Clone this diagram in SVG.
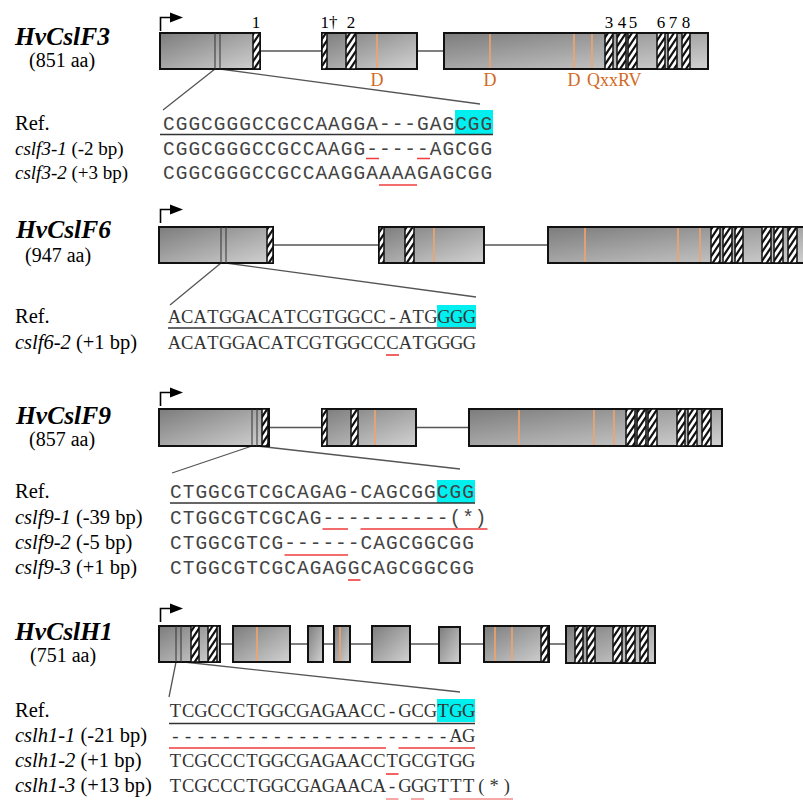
<svg xmlns="http://www.w3.org/2000/svg" width="803" height="800" viewBox="0 0 803 800">
<defs>
<linearGradient id="gr" x1="0" y1="0" x2="1" y2="1">
<stop offset="0" stop-color="#7c7c7c"/>
<stop offset="1" stop-color="#d2d2d2"/>
</linearGradient>
<pattern id="hatch" patternUnits="userSpaceOnUse" width="6" height="9">
<rect width="6" height="9" fill="#fff"/>
<path d="M-1,10.5 L7,-1.5 M-7,10.5 L1,-1.5 M5,10.5 L13,-1.5" stroke="#111" stroke-width="2.2"/>
</pattern>
<style>
.title{font-family:"Liberation Serif",serif;font-weight:bold;font-style:italic;font-size:25.5px;fill:#000}
.aa{font-family:"Liberation Serif",serif;font-size:20px;fill:#000}
.lbl{font-family:"Liberation Serif",serif;font-size:20.5px;fill:#000}
.lbl3{font-family:"Liberation Serif",serif;font-size:19px;fill:#000}
.it{font-style:italic}
.seqS{font-family:"Liberation Mono",monospace;font-size:19.5px;letter-spacing:1px;fill:#444}
.seqC{font-family:"Liberation Serif",serif;font-size:18.5px;fill:#333;text-anchor:middle}
.exon{fill:url(#gr);stroke:#111;stroke-width:2}
.hat{fill:url(#hatch);stroke:#111;stroke-width:1.5}
.intron{stroke:#555;stroke-width:1.5;fill:none}
.zoom{stroke:#555;stroke-width:1.3;fill:none}
.org{stroke:#f2a46c;stroke-width:1.6}
.inner{stroke:#333;stroke-width:1}
.motif{font-family:"Liberation Serif",serif;font-size:18px;fill:#d2691e}
.num{font-family:"Liberation Serif",serif;font-size:17px;fill:#000;text-anchor:middle}
.ul{stroke:#333;stroke-width:1.5}
.red{stroke:#f03c3c;stroke-width:1.6}
.cyan{fill:#00f0f0}
.arr{stroke:#000;stroke-width:1.6;fill:none}
</style>
</defs>
<rect width="803" height="800" fill="#fff"/>

<!-- connectors -->
<g id="connectors">
<path class="zoom" d="M215,69 L163,110 M220,69 L480,104"/>
<path class="zoom" d="M221,263 L170,305 M226,263 L476,297"/>
<path class="zoom" d="M252,446 L172,473 M257,446 L460,469"/>
<path class="zoom" d="M176,662 L169,697 M184,662 L460,692"/>
</g>

<!-- HvCslF3 -->
<g id="gene-HvCslF3">
<text class="title" x="15" y="45">HvCslF3</text>
<text class="aa" x="29" y="67">(851 aa)</text>
<path class="arr" d="M160.5,31 V17.5 H172"/>
<polygon points="170,12.5 183,17.5 170,22.5" fill="#000"/>
<path class="intron" d="M260,51 H322 M417,51 H444"/>
<rect class="exon" x="160" y="33" width="100" height="36"/>
<rect class="exon" x="322" y="33" width="95" height="36"/>
<rect class="exon" x="444" y="33" width="264" height="36"/>
<path class="inner" d="M215,33 V69 M220,33 V69"/>
<path class="org" d="M377,34 V68 M490,34 V68 M574,34 V68 M592,34 V68"/>
<rect class="hat" x="253" y="33" width="7" height="36"/>
<rect class="hat" x="322" y="33" width="5" height="36"/>
<rect class="hat" x="346" y="33" width="10" height="36"/>
<rect class="hat" x="605" y="33" width="8" height="36"/>
<rect class="hat" x="617" y="33" width="9" height="36"/>
<rect class="hat" x="628" y="33" width="9" height="36"/>
<rect class="hat" x="657" y="33" width="8" height="36"/>
<rect class="hat" x="668" y="33" width="9" height="36"/>
<rect class="hat" x="682" y="33" width="8" height="36"/>
<text class="num" x="256" y="28">1</text>
<text class="num" x="329" y="28">1†</text>
<text class="num" x="351" y="28">2</text>
<text class="num" x="609" y="28">3</text>
<text class="num" x="622" y="28">4</text>
<text class="num" x="633" y="28">5</text>
<text class="num" x="661" y="28">6</text>
<text class="num" x="673" y="28">7</text>
<text class="num" x="686" y="28">8</text>
<text class="motif" x="377" y="86" text-anchor="middle">D</text>
<text class="motif" x="490" y="86" text-anchor="middle">D</text>
<text class="motif" x="574" y="86" text-anchor="middle">D</text>
<text class="motif" x="587" y="86">QxxRV</text>
</g>

<g id="seq-HvCslF3">
<rect class="cyan" x="455" y="110" width="38" height="24"/>
<text class="lbl" x="15" y="130">Ref.</text>
<text class="seqS" x="163" y="130">CGGCGGGCCGCCAAGGA---GAGCGG</text>
<line class="ul" x1="160" y1="134.5" x2="493" y2="134.5"/>
<text class="lbl3" x="15" y="154.5"><tspan class="it">cslf3-1</tspan> (-2 bp)</text>
<text class="seqS" x="163" y="154.5">CGGCGGGCCGCCAAGG-----AGCGG</text>
<path class="red" d="M366,158.5 H379 M417,158.5 H430"/>
<text class="lbl3" x="15" y="179"><tspan class="it">cslf3-2</tspan> (+3 bp)</text>
<text class="seqS" x="163" y="179">CGGCGGGCCGCCAAGGAAAAGAGCGG</text>
<path class="red" d="M379,185 H417"/>
</g>

<!-- HvCslF6 -->
<g id="gene-HvCslF6">
<text class="title" x="16" y="238">HvCslF6</text>
<text class="aa" x="25" y="262">(947 aa)</text>
<path class="arr" d="M160.5,223 V209.5 H172"/>
<polygon points="170,204.5 183,209.5 170,214.5" fill="#000"/>
<path class="intron" d="M273,245 H379 M484,245 H548"/>
<rect class="exon" x="159" y="227" width="114" height="36"/>
<rect class="exon" x="379" y="227" width="105" height="36"/>
<rect class="exon" x="548" y="227" width="270" height="36"/>
<path class="inner" d="M221,227 V263 M226,227 V263"/>
<path class="org" d="M434,228 V262 M585,228 V262 M678,228 V262 M700,228 V262"/>
<rect class="hat" x="267" y="227" width="6" height="36"/>
<rect class="hat" x="379" y="227" width="5" height="36"/>
<rect class="hat" x="405" y="227" width="9" height="36"/>
<rect class="hat" x="711" y="227" width="9" height="36"/>
<rect class="hat" x="723" y="227" width="9" height="36"/>
<rect class="hat" x="735" y="227" width="8" height="36"/>
<rect class="hat" x="762" y="227" width="9" height="36"/>
<rect class="hat" x="774" y="227" width="9" height="36"/>
<rect class="hat" x="788" y="227" width="9" height="36"/>
</g>

<g id="seq-HvCslF6">
<rect class="cyan" x="437" y="305" width="39" height="22"/>
<text class="lbl" x="15" y="323">Ref.</text>
<text class="seqC" x="174.4 187.2 200.1 212.9 225.7 238.6 251.4 264.2 277.1 289.9 302.7 315.5 328.4 341.2 354.0 366.9 379.7 392.5 405.4 418.2 431.0 443.9 456.7 469.5" y="323">ACATGGACATCGTGGCC-ATGGGG</text>
<line class="ul" x1="168" y1="328" x2="476" y2="328"/>
<text class="lbl" x="15" y="349"><tspan class="it">cslf6-2</tspan> (+1 bp)</text>
<text class="seqC" x="174.4 187.2 200.1 212.9 225.7 238.6 251.4 264.2 277.1 289.9 302.7 315.5 328.4 341.2 354.0 366.9 379.7 392.5 405.4 418.2 431.0 443.9 456.7 469.5" y="349">ACATGGACATCGTGGCCCATGGGG</text>
<path class="red" d="M386,355 H399"/>
</g>

<!-- HvCslF9 -->
<g id="gene-HvCslF9">
<text class="title" x="16" y="424">HvCslF9</text>
<text class="aa" x="29" y="446">(857 aa)</text>
<path class="arr" d="M160.5,406 V392.5 H172"/>
<polygon points="170,387.5 183,392.5 170,397.5" fill="#000"/>
<path class="intron" d="M269,427.5 H322 M416,427.5 H469"/>
<rect class="exon" x="159" y="409" width="110" height="37"/>
<rect class="exon" x="322" y="409" width="94" height="37"/>
<rect class="exon" x="469" y="409" width="253" height="37"/>
<path class="inner" d="M252,409 V446 M257,409 V446"/>
<path class="org" d="M375,410 V445 M519,410 V445 M594,410 V445 M614,410 V445"/>
<rect class="hat" x="262" y="409" width="6" height="37"/>
<rect class="hat" x="322" y="409" width="5" height="37"/>
<rect class="hat" x="351" y="409" width="7" height="37"/>
<rect class="hat" x="626" y="409" width="9" height="37"/>
<rect class="hat" x="637" y="409" width="9" height="37"/>
<rect class="hat" x="648" y="409" width="9" height="37"/>
<rect class="hat" x="677" y="409" width="8" height="37"/>
<rect class="hat" x="688" y="409" width="9" height="37"/>
<rect class="hat" x="702" y="409" width="9" height="37"/>
</g>

<g id="seq-HvCslF9">
<rect class="cyan" x="437" y="480" width="38" height="23"/>
<text class="lbl" x="15" y="498">Ref.</text>
<text class="seqS" x="170" y="498">CTGGCGTCGCAGAG-CAGCGGCGG</text>
<line class="ul" x1="170" y1="503" x2="475" y2="503"/>
<text class="lbl" x="15" y="524"><tspan class="it">cslf9-1</tspan> (-39 bp)</text>
<text class="seqS" x="170" y="524">CTGGCGTCGCAG----------(*)</text>
<path class="red" d="M322.5,529 H348 M360.5,529 H487.5"/>
<text class="lbl" x="15" y="549"><tspan class="it">cslf9-2</tspan> (-5 bp)</text>
<text class="seqS" x="170" y="549">CTGGCGTCG------CAGCGGCGG</text>
<path class="red" d="M284.5,555 H348"/>
<text class="lbl" x="15" y="574"><tspan class="it">cslf9-3</tspan> (+1 bp)</text>
<text class="seqS" x="170" y="574">CTGGCGTCGCAGAGGCAGCGGCGG</text>
<path class="red" d="M348,580 H360.5"/>
</g>

<!-- HvCslH1 -->
<g id="gene-HvCslH1">
<text class="title" x="15" y="640">HvCslH1</text>
<text class="aa" x="30" y="662">(751 aa)</text>
<path class="arr" d="M160.5,622 V608.5 H172"/>
<polygon points="170,603.5 183,608.5 170,613.5" fill="#000"/>
<path class="intron" d="M220,644 H233 M290,644 H308 M323,644 H334 M350,644 H372 M410,644 H439 M460,644 H484 M549,644 H566"/>
<rect class="exon" x="159" y="626" width="61" height="36"/>
<rect class="exon" x="233" y="626" width="57" height="36"/>
<rect class="exon" x="308" y="626" width="15" height="36"/>
<rect class="exon" x="334" y="626" width="16" height="36"/>
<rect class="exon" x="372" y="626" width="38" height="36"/>
<rect class="exon" x="439" y="627" width="21" height="36"/>
<rect class="exon" x="484" y="626" width="65" height="36"/>
<rect class="exon" x="566" y="626" width="89" height="37" stroke-width="2.5"/>
<path class="inner" d="M176,626 V662 M181,626 V662"/>
<path class="org" d="M257,627 V661 M340,627 V661 M495,627 V661 M512,627 V661"/>
<rect class="hat" x="191" y="626" width="8" height="36"/>
<rect class="hat" x="208" y="626" width="9" height="36"/>
<rect class="hat" x="541" y="626" width="7" height="36"/>
<rect class="hat" x="575" y="626" width="8" height="37"/>
<rect class="hat" x="587" y="626" width="8" height="37"/>
<rect class="hat" x="613" y="626" width="9" height="37"/>
<rect class="hat" x="626" y="626" width="9" height="37"/>
<rect class="hat" x="640" y="626" width="8" height="37"/>
</g>

<g id="seq-HvCslH1">
<rect class="cyan" x="437" y="699" width="38" height="23"/>
<text class="lbl" x="15" y="717">Ref.</text>
<text class="seqC" x="175.4 188.1 200.9 213.6 226.4 239.1 251.9 264.6 277.4 290.1 302.9 315.6 328.4 341.1 353.9 366.6 379.4 392.1 404.9 417.6 430.4 443.1 455.9 468.6" y="717">TCGCCCTGGCGAGAACC-GCGTGG</text>
<line class="ul" x1="169" y1="723.5" x2="475" y2="723.5"/>
<text class="lbl" x="15" y="742"><tspan class="it">cslh1-1</tspan> (-21 bp)</text>
<text class="seqC" x="175.4 188.1 200.9 213.6 226.4 239.1 251.9 264.6 277.4 290.1 302.9 315.6 328.4 341.1 353.9 366.6 379.4 392.1 404.9 417.6 430.4 443.1 455.9 468.6" y="742">----------------------AG</text>
<path class="red" d="M169,748 H386 M398.5,748 H475"/>
<text class="lbl" x="15" y="767"><tspan class="it">cslh1-2</tspan> (+1 bp)</text>
<text class="seqC" x="175.4 188.1 200.9 213.6 226.4 239.1 251.9 264.6 277.4 290.1 302.9 315.6 328.4 341.1 353.9 366.6 379.4 392.1 404.9 417.6 430.4 443.1 455.9 468.6" y="767">TCGCCCTGGCGAGAACCTGCGTGG</text>
<path class="red" d="M386,774 H398.5"/>
<text class="lbl" x="15" y="792"><tspan class="it">cslh1-3</tspan> (+13 bp)</text>
<text class="seqC" x="175.4 188.1 200.9 213.6 226.4 239.1 251.9 264.6 277.4 290.1 302.9 315.6 328.4 341.1 353.9 366.6 379.4 392.1 404.9 417.6 430.4 443.1 455.9 468.6 481.4 494.1 506.9" y="792">TCGCCCTGGCGAGAACA-GGGTTT(*)</text>
<path class="red" d="M386,799 H398.5 M411,799 H424 M449.5,799 H513" stroke-opacity="0.6"/>
</g>
</svg>
